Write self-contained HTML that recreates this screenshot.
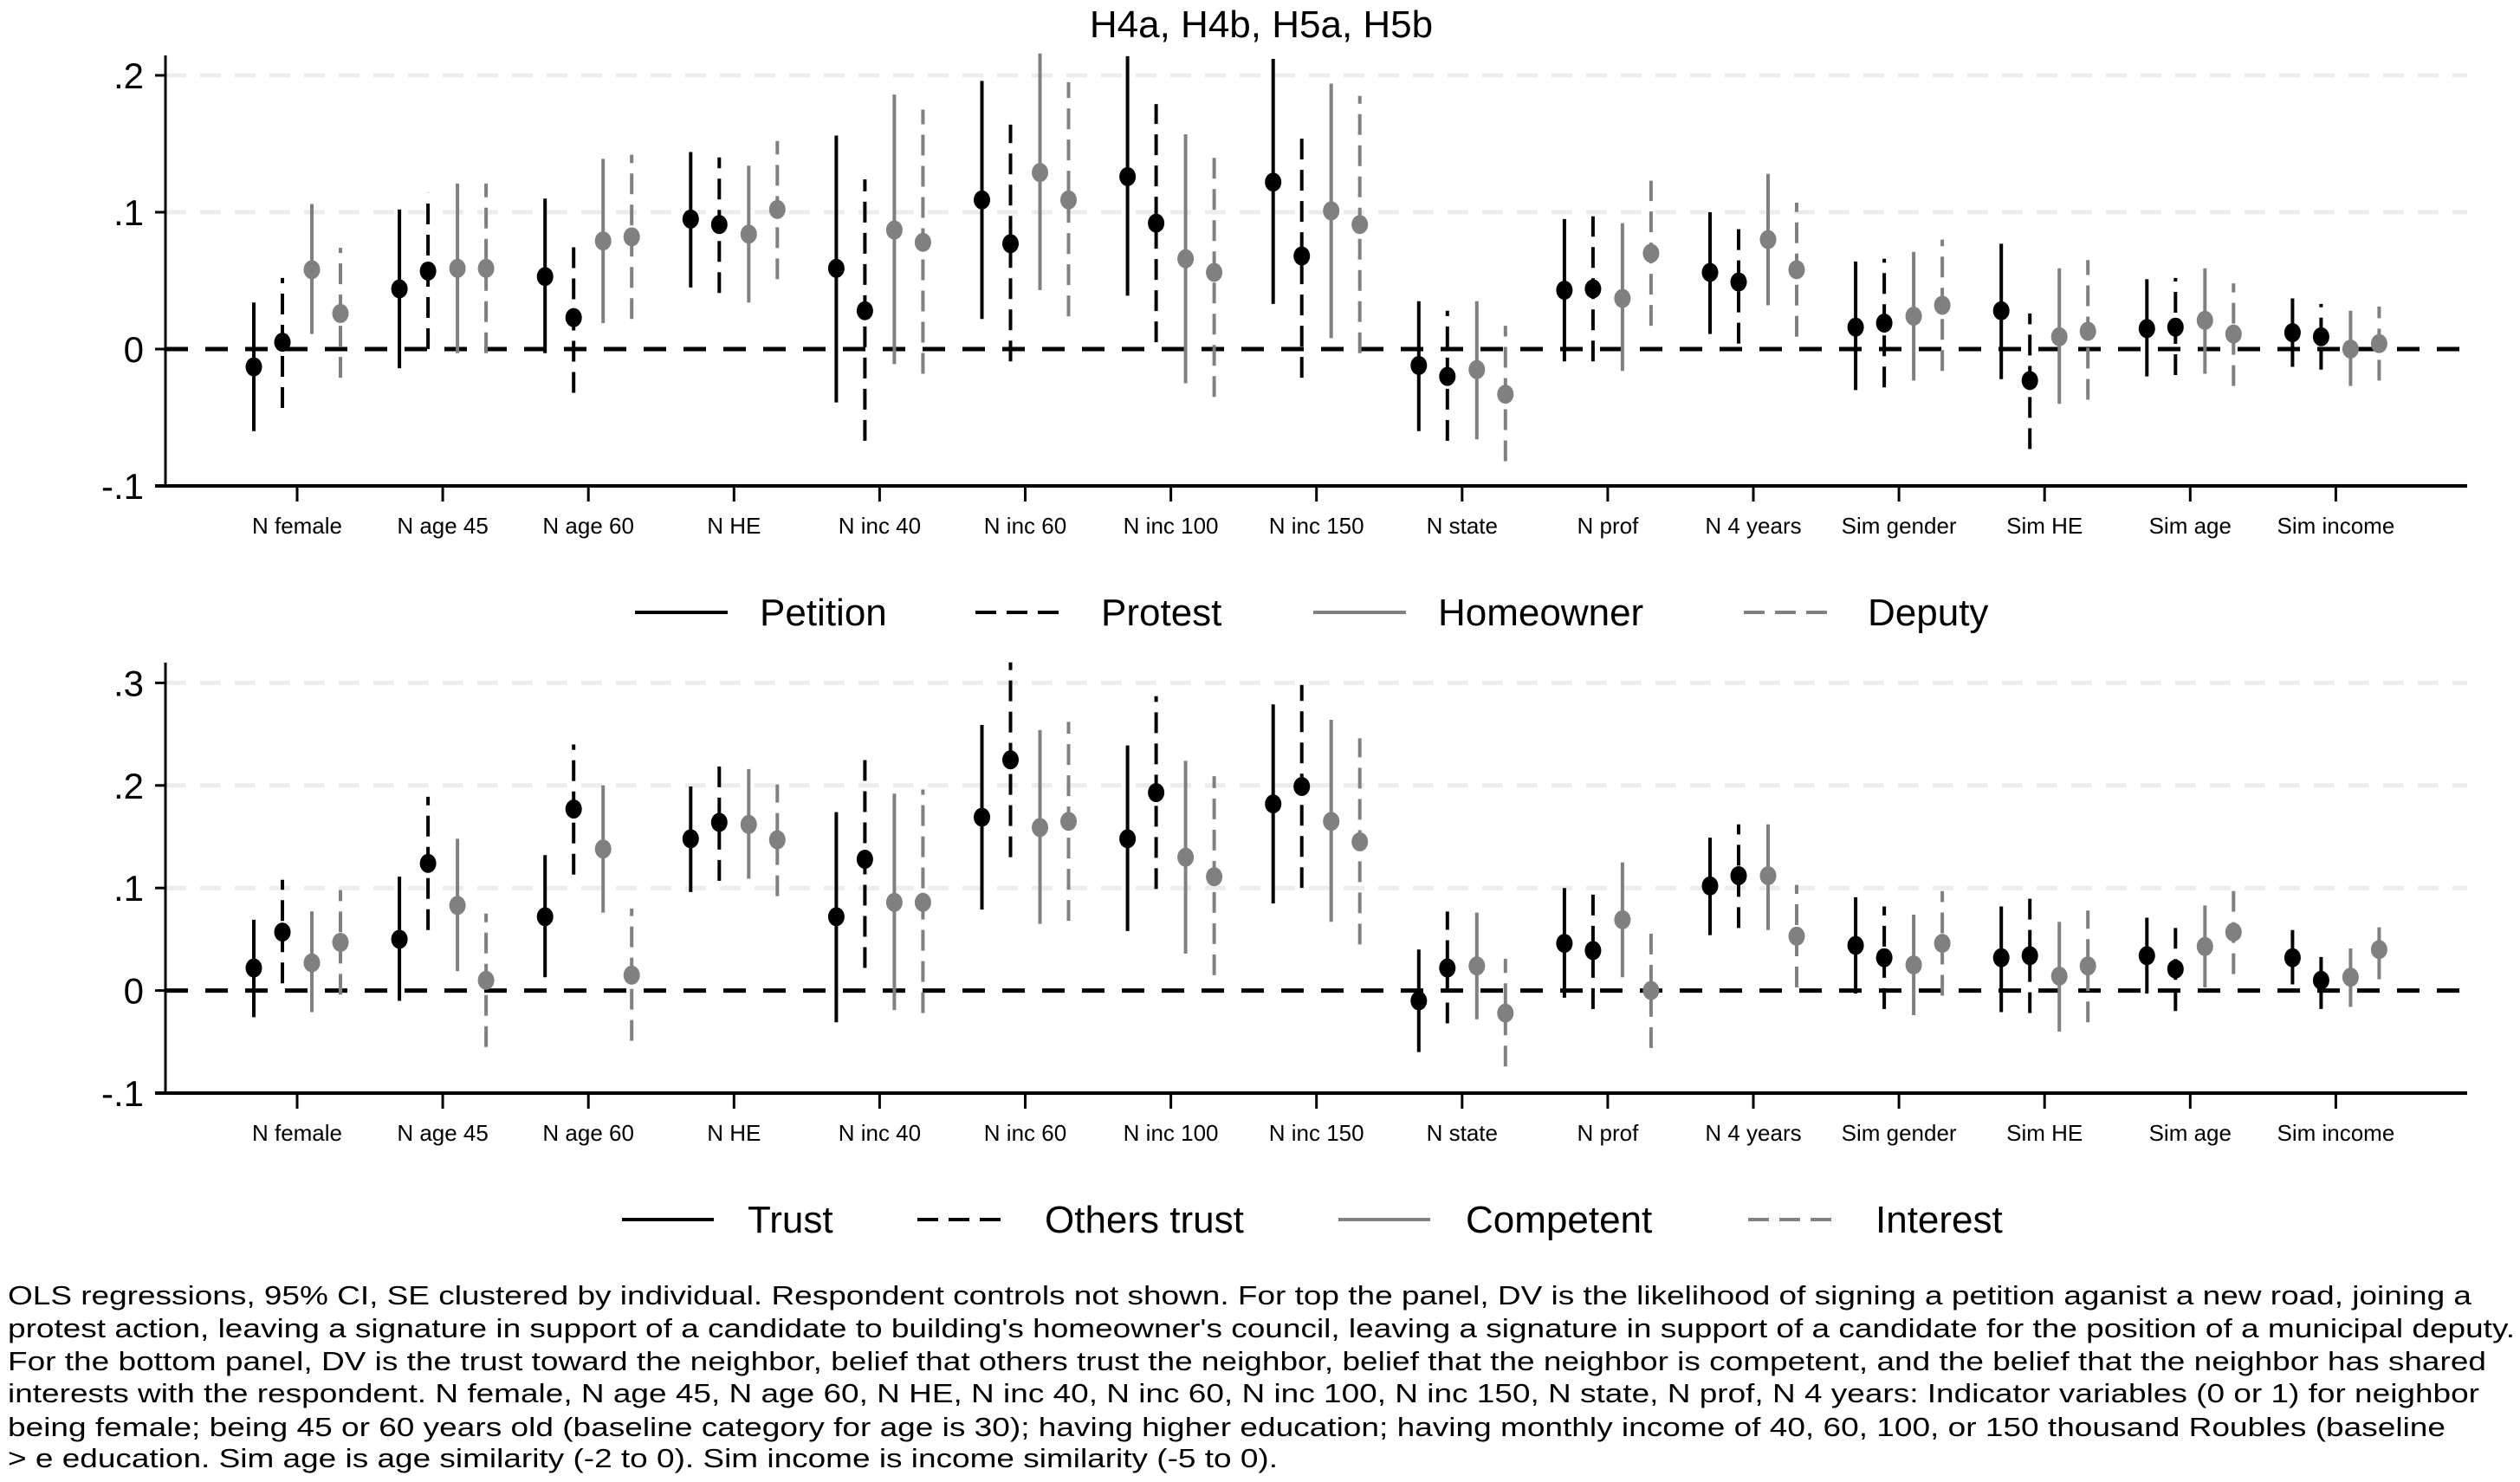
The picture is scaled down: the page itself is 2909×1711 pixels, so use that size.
<!DOCTYPE html>
<html><head><meta charset="utf-8"><style>
html,body{margin:0;padding:0;background:#fff;}
svg{display:block;font-family:"Liberation Sans",Arial,sans-serif;}
</style></head><body>
<svg id="chart" width="2909" height="1711" viewBox="0 0 2909 1711" xmlns="http://www.w3.org/2000/svg">
<rect width="2909" height="1711" fill="#fff"/>
<text x="1456" y="43" font-size="44" text-anchor="middle" fill="#000">H4a, H4b, H5a, H5b</text>
<g id="top"></g>
<g id="bottom"></g>
<g>
<line x1="733" y1="707" x2="840" y2="707" stroke="#000" stroke-width="4"/>
<text x="877" y="722" font-size="44">Petition</text>
<line x1="1126" y1="707" x2="1224" y2="707" stroke="#000" stroke-width="4" stroke-dasharray="24,12"/>
<text x="1271" y="722" font-size="44">Protest</text>
<line x1="1516" y1="707" x2="1623" y2="707" stroke="#808080" stroke-width="4"/>
<text x="1660" y="722" font-size="44">Homeowner</text>
<line x1="2013" y1="707" x2="2109" y2="707" stroke="#808080" stroke-width="4" stroke-dasharray="24,12"/>
<text x="2156" y="722" font-size="44">Deputy</text>
</g>
<g>
<line x1="718" y1="1408" x2="824" y2="1408" stroke="#000" stroke-width="4"/>
<text x="863" y="1423" font-size="44">Trust</text>
<line x1="1059" y1="1408" x2="1156" y2="1408" stroke="#000" stroke-width="4" stroke-dasharray="24,12"/>
<text x="1206" y="1423" font-size="44">Others trust</text>
<line x1="1545" y1="1408" x2="1651" y2="1408" stroke="#808080" stroke-width="4"/>
<text x="1692" y="1423" font-size="44">Competent</text>
<line x1="2018" y1="1408" x2="2115" y2="1408" stroke="#808080" stroke-width="4" stroke-dasharray="24,12"/>
<text x="2165" y="1423" font-size="44">Interest</text>
</g>
<g font-size="31" fill="#000">
<text x="9" y="1506" textLength="2844" lengthAdjust="spacingAndGlyphs">OLS regressions, 95% CI, SE clustered by individual. Respondent controls not shown. For top the panel, DV is the likelihood of signing a petition aganist a new road, joining a</text>
<text x="9" y="1544" textLength="2894" lengthAdjust="spacingAndGlyphs">protest action, leaving a signature in support of a candidate to building's homeowner's council, leaving a signature in support of a candidate for the position of a municipal deputy.</text>
<text x="9" y="1582" textLength="2861" lengthAdjust="spacingAndGlyphs">For the bottom panel, DV is the trust toward the neighbor, belief that others trust the neighbor, belief that the neighbor is competent, and the belief that the neighbor has shared</text>
<text x="9" y="1619" textLength="2853" lengthAdjust="spacingAndGlyphs">interests with the respondent. N female, N age 45, N age 60, N HE, N inc 40, N inc 60, N inc 100, N inc 150, N state, N prof, N 4 years: Indicator variables (0 or 1) for neighbor</text>
<text x="9" y="1658" textLength="2814" lengthAdjust="spacingAndGlyphs">being female; being 45 or 60 years old (baseline category for age is 30); having higher education; having monthly income of 40, 60, 100, or 150 thousand Roubles (baseline</text>
<text x="9" y="1694" textLength="1466" lengthAdjust="spacingAndGlyphs">&gt; e education. Sim age is age similarity (-2 to 0). Sim income is income similarity (-5 to 0).</text>
</g>
</svg>
<script>
const categories = ["N female","N age 45","N age 60","N HE","N inc 40","N inc 60","N inc 100","N inc 150","N state","N prof","N 4 years","Sim gender","Sim HE","Sim age","Sim income"];
const topTicks = [-0.1, 0, 0.1, 0.2];
const topTickLabels = ["-.1","0",".1",".2"];
const bottomTicks = [-0.1, 0, 0.1, 0.2, 0.3];
const bottomTickLabels = ["-.1","0",".1",".2",".3"];
// top panel
const petitionEst = [-0.013,0.044,0.053,0.095,0.059,0.109,0.126,0.122,-0.012,0.043,0.056,0.016,0.028,0.015,0.012];
const petitionLo  = [-0.060,-0.014,-0.003,0.045,-0.039,0.022,0.039,0.033,-0.060,-0.009,0.011,-0.030,-0.022,-0.020,-0.013];
const petitionHi  = [0.034,0.102,0.110,0.144,0.156,0.196,0.214,0.212,0.035,0.095,0.100,0.064,0.077,0.051,0.037];
const protestEst = [0.005,0.057,0.023,0.091,0.028,0.077,0.092,0.068,-0.020,0.044,0.049,0.019,-0.023,0.016,0.009];
const protestLo  = [-0.043,0.000,-0.032,0.041,-0.067,-0.009,0.005,-0.021,-0.067,-0.009,0.004,-0.028,-0.073,-0.019,-0.015];
const protestHi  = [0.052,0.114,0.075,0.140,0.124,0.164,0.179,0.154,0.028,0.097,0.095,0.066,0.026,0.052,0.033];
const homeownerEst = [0.058,0.059,0.079,0.084,0.087,0.129,0.066,0.101,-0.015,0.037,0.080,0.024,0.009,0.021,0.000];
const homeownerLo  = [0.011,-0.003,0.019,0.034,-0.011,0.043,-0.025,0.008,-0.066,-0.016,0.032,-0.023,-0.040,-0.018,-0.027];
const homeownerHi  = [0.106,0.121,0.139,0.134,0.186,0.216,0.157,0.194,0.035,0.092,0.128,0.071,0.059,0.059,0.028];
const deputyEst = [0.026,0.059,0.082,0.102,0.078,0.109,0.056,0.091,-0.033,0.070,0.058,0.032,0.013,0.011,0.004];
const deputyLo  = [-0.021,-0.003,0.022,0.051,-0.018,0.024,-0.035,-0.003,-0.082,0.017,0.009,-0.016,-0.037,-0.027,-0.023];
const deputyHi  = [0.074,0.121,0.142,0.152,0.175,0.195,0.141,0.185,0.017,0.123,0.107,0.080,0.065,0.048,0.031];
// bottom panel
const trustEst = [0.022,0.050,0.072,0.148,0.072,0.169,0.148,0.182,-0.010,0.046,0.102,0.044,0.032,0.034,0.032];
const trustLo  = [-0.026,-0.010,0.013,0.096,-0.031,0.079,0.058,0.085,-0.060,-0.007,0.054,-0.003,-0.021,-0.003,0.006];
const trustHi  = [0.069,0.111,0.132,0.199,0.174,0.259,0.239,0.279,0.040,0.100,0.149,0.091,0.082,0.071,0.059];
const othersEst = [0.057,0.124,0.177,0.164,0.128,0.225,0.193,0.199,0.022,0.039,0.112,0.032,0.034,0.021,0.010];
const othersLo  = [0.007,0.059,0.113,0.107,0.022,0.130,0.099,0.100,-0.032,-0.018,0.061,-0.018,-0.022,-0.020,-0.018];
const othersHi  = [0.108,0.189,0.240,0.220,0.225,0.320,0.287,0.298,0.077,0.094,0.162,0.082,0.090,0.061,0.033];
const competentEst = [0.027,0.083,0.138,0.162,0.086,0.159,0.130,0.165,0.024,0.069,0.112,0.025,0.014,0.043,0.013];
const competentLo  = [-0.021,0.019,0.076,0.109,-0.019,0.065,0.036,0.067,-0.028,0.013,0.059,-0.024,-0.040,0.003,-0.016];
const competentHi  = [0.077,0.148,0.200,0.216,0.192,0.254,0.224,0.264,0.076,0.125,0.162,0.074,0.067,0.083,0.041];
const interestEst = [0.047,0.010,0.015,0.147,0.086,0.165,0.111,0.145,-0.022,0.000,0.053,0.046,0.024,0.057,0.040];
const interestLo  = [-0.004,-0.055,-0.049,0.092,-0.022,0.068,0.015,0.045,-0.074,-0.056,0.003,-0.005,-0.031,0.016,0.011];
const interestHi  = [0.098,0.075,0.080,0.201,0.196,0.262,0.209,0.246,0.031,0.056,0.103,0.097,0.078,0.097,0.063];

const NS="http://www.w3.org/2000/svg";
function mk(parent, tag, attrs){const e=document.createElementNS(NS,tag);for(const k in attrs)e.setAttribute(k,attrs[k]);parent.appendChild(e);return e;}
const xLeft=191, xRight=2848;
function xCat(i){return 343+168.1*i;}
const offsets=[-50,-17,17,50];

function drawPanel(g, yScale, yTop, yBottom, ticks, tickLabels, tickLabelY, series, panelName){
  ticks.forEach((t,k)=>{
    if(t>0){
      const gl=mk(g,'line',{x1:xLeft,x2:xRight,y1:yScale(t),y2:yScale(t),stroke:'#ececec','stroke-width':5,'stroke-dasharray':'24,16'});
      
      
    }
    const tk=mk(g,'line',{x1:xLeft-12,x2:xLeft,y1:yScale(t),y2:yScale(t),stroke:'#000','stroke-width':3});
    
    
    const tl=mk(g,'text',{x:166,y:yScale(t)+15,'font-size':42,'text-anchor':'end'});
    tl.textContent=tickLabels[k];
    
    
  });
  const z=mk(g,'line',{x1:xLeft,x2:xRight,y1:yScale(0),y2:yScale(0),stroke:'#000','stroke-width':5,'stroke-dasharray':'26,20'});
  
  
  const ya=mk(g,'line',{x1:xLeft,x2:xLeft,y1:yTop,y2:yBottom,stroke:'#000','stroke-width':3});
  
  
  const xa=mk(g,'line',{x1:xLeft-12,x2:xRight,y1:yBottom,y2:yBottom,stroke:'#000','stroke-width':4});
  
  
  categories.forEach((c,i)=>{
    const t=mk(g,'line',{x1:xCat(i),x2:xCat(i),y1:yBottom,y2:yBottom+18,stroke:'#000','stroke-width':3});
    
    
    const l=mk(g,'text',{x:xCat(i),y:tickLabelY,'font-size':26,'text-anchor':'middle'});
    l.textContent=c;
    
    
  });
  series.forEach((s,si)=>{
    categories.forEach((c,i)=>{
      const x=xCat(i)+offsets[si];
      const ci=mk(g,'line',{x1:x,x2:x,y1:yScale(s.lo[i]),y2:yScale(s.hi[i]),stroke:s.color,'stroke-width':4});
      if(s.dash) ci.setAttribute('stroke-dasharray','24,12');
      
      
      const p=mk(g,'ellipse',{cx:x,cy:yScale(s.est[i]),rx:9.5,ry:11,fill:s.color});
      
      
    });
  });
}
const topG=document.getElementById('top');


drawPanel(topG, v=>403-v*1580, 64, 561, topTicks, topTickLabels, 616, [
  {name:'petition',est:petitionEst,lo:petitionLo,hi:petitionHi,color:'#000',dash:false},
  {name:'protest',est:protestEst,lo:protestLo,hi:protestHi,color:'#000',dash:true},
  {name:'homeowner',est:homeownerEst,lo:homeownerLo,hi:homeownerHi,color:'#808080',dash:false},
  {name:'deputy',est:deputyEst,lo:deputyLo,hi:deputyHi,color:'#808080',dash:true}
],'top');
const botG=document.getElementById('bottom');


drawPanel(botG, v=>1143.6-v*1184, 765, 1262, bottomTicks, bottomTickLabels, 1317, [
  {name:'trust',est:trustEst,lo:trustLo,hi:trustHi,color:'#000',dash:false},
  {name:'others-trust',est:othersEst,lo:othersLo,hi:othersHi,color:'#000',dash:true},
  {name:'competent',est:competentEst,lo:competentLo,hi:competentHi,color:'#808080',dash:false},
  {name:'interest',est:interestEst,lo:interestLo,hi:interestHi,color:'#808080',dash:true}
],'bottom');
</script>
</body></html>
